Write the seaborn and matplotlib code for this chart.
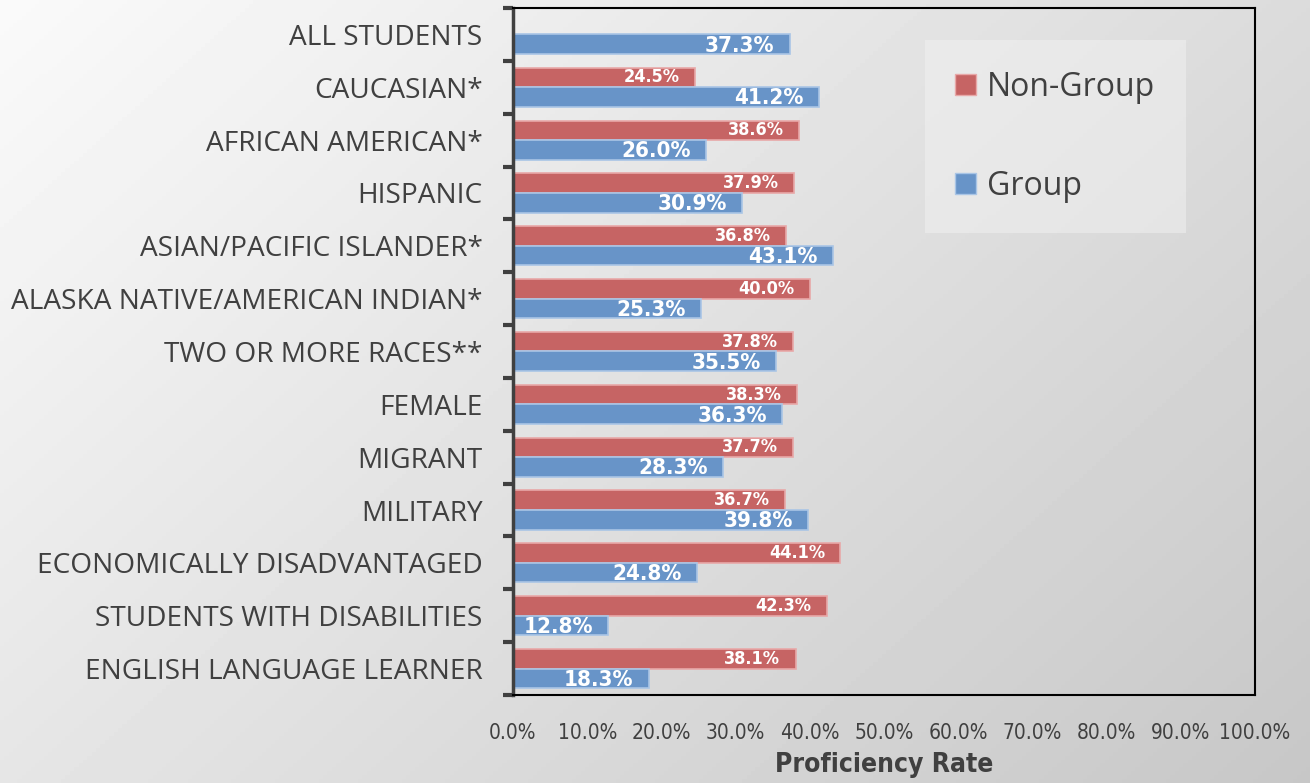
import matplotlib.pyplot as plt
import matplotlib.patches as mpatches
from matplotlib.ticker import PercentFormatter
import seaborn as sns
import pandas as pd
import numpy as np

categories = ["ALL STUDENTS", "CAUCASIAN*", "AFRICAN AMERICAN*", "HISPANIC",
              "ASIAN/PACIFIC ISLANDER*", "ALASKA NATIVE/AMERICAN INDIAN*",
              "TWO OR MORE RACES**", "FEMALE", "MIGRANT", "MILITARY",
              "ECONOMICALLY DISADVANTAGED", "STUDENTS WITH DISABILITIES",
              "ENGLISH LANGUAGE LEARNER"]
non_group = [np.nan, 24.5, 38.6, 37.9, 36.8, 40.0, 37.8, 38.3, 37.7, 36.7, 44.1, 42.3, 38.1]
group = [37.3, 41.2, 26.0, 30.9, 43.1, 25.3, 35.5, 36.3, 28.3, 39.8, 24.8, 12.8, 18.3]
series = ["Non-Group", "Group"]
colors = {"Non-Group": "#C66464", "Group": "#6894C8"}
edges = {"Non-Group": "#E8A8A8", "Group": "#A9C5E6"}

df = pd.DataFrame({
    "Category": categories * 2,
    "Series": ["Non-Group"] * len(categories) + ["Group"] * len(categories),
    "Rate": non_group + group,
})
df["Rate"] = df["Rate"] / 100
df = df.dropna()

narrow = dict(family="DejaVu Sans", stretch="condensed")

fig = plt.figure(figsize=(13.1, 7.83), dpi=100)

# gradient background
bg = fig.add_axes([0, 0, 1, 1], zorder=-1)
yy, xx = np.mgrid[0:1:200j, 0:1:300j]
grad = 0.98 - 0.20 * (0.6 * xx + 0.4 * yy)
bg.imshow(grad, extent=[0, 1, 0, 1], aspect="auto", cmap="gray", vmin=0, vmax=1, origin="upper")
bg.axis("off")

ax = fig.add_axes([0.3916, 0.1124, 0.5664, 0.8774])
ax.patch.set_alpha(0)

sns.barplot(data=df, y="Category", x="Rate", hue="Series", order=categories,
            hue_order=series, palette=colors, errorbar=None, width=0.74,
            saturation=1, orient="h", ax=ax, legend=False)

for cont, name in zip(ax.containers, series):
    for p in cont.patches:
        p.set_edgecolor(edges[name])
        p.set_linewidth(1.2)
        w = p.get_width()
        if np.isnan(w) or w == 0:
            continue
        yc = p.get_y() + p.get_height() / 2
        ax.annotate(f"{w * 100:.1f}%", xy=(w, yc), xytext=(-11, -1 if name == "Group" else 0),
                    textcoords="offset points", ha="right", va="center", color="white",
                    fontweight="bold", fontsize=16 if name == "Group" else 13, **narrow)

ax.set_xlim(0, 1)
ax.set_ylim(len(categories) - 0.5, -0.5)
ax.set_xticks(np.arange(0, 1.01, 0.1))
ax.xaxis.set_major_formatter(PercentFormatter(xmax=1, decimals=1))
ax.tick_params(axis="x", length=0, pad=20, labelsize=15, labelcolor="#404040")
for t in ax.get_xticklabels():
    t.set_family("DejaVu Sans")
    t.set_stretch("condensed")

ax.set_yticks(np.arange(len(categories)))
ax.set_yticklabels(categories, family=["Open Sans", "DejaVu Sans"], fontsize=20.2, color="#404040")
ax.set_yticks(np.arange(-0.5, len(categories), 1), minor=True)
ax.tick_params(axis="y", which="major", length=0, pad=22)
ax.tick_params(axis="y", which="minor", length=7, width=3, color="#404040", direction="out")

ax.set_ylabel("")
ax.set_xlabel("Proficiency Rate", fontsize=19, fontweight="bold", color="#404040",
              labelpad=7, **narrow)

ax.spines["left"].set_color("#404040")
ax.spines["left"].set_linewidth(2.5)
for s in ["top", "right", "bottom"]:
    ax.spines[s].set_color("black")
    ax.spines[s].set_linewidth(1.5)

handles = [mpatches.Patch(facecolor=colors[s], edgecolor=edges[s], label=s) for s in series]
leg = ax.legend(handles=handles, loc="upper left", bbox_to_anchor=(0.555, 0.953),
                prop={"family": ["Open Sans", "DejaVu Sans"], "size": 23},
                handlelength=0.65, handleheight=0.65, handletextpad=0.35,
                labelspacing=2.07, borderpad=0.95, borderaxespad=0,
                frameon=True, fancybox=False)
leg.get_frame().set_facecolor("#F2F2F2")
leg.get_frame().set_alpha(0.5)
leg.get_frame().set_edgecolor("none")
for t in leg.get_texts():
    t.set_color("#404040")

fig.savefig("out.png", dpi=100)
